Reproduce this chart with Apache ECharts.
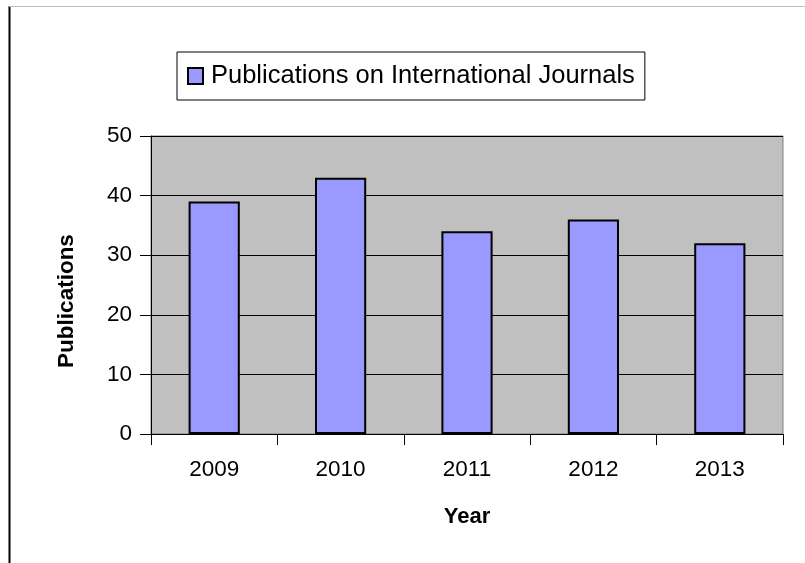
<!DOCTYPE html>
<html><head><meta charset="utf-8">
<script src="https://cdn.jsdelivr.net/npm/echarts@6/dist/echarts.min.js"></script>
<style>html,body{margin:0;padding:0;background:#fff}#c{width:805px;height:563px}</style>
</head><body><div id="c"></div>
<script>
const categories = ['2009','2010','2011','2012','2013'];
const values = [39, 43, 34, 36, 32];
const seriesName = 'Publications on International Journals';
const yTicks = {min:0, max:50, interval:10};

const chart = echarts.init(document.getElementById('c'), null, {renderer:'canvas'});
const F = 'Liberation Sans, Arial, sans-serif';
chart.setOption({
  animation:false,
  backgroundColor:'#fff',
  graphic:[
    {type:'line', shape:{x1:9.5,y1:6,x2:9.5,y2:563}, style:{stroke:'#000',lineWidth:2}},
    {type:'line', shape:{x1:9,y1:6.5,x2:805,y2:6.5}, style:{stroke:'#c0c0c0',lineWidth:1}}
  ],
  legend:{
    left:177, top:52, orient:'horizontal',
    data:[seriesName],
    icon:'rect', itemWidth:15, itemHeight:16, itemGap:4,
    itemStyle:{borderColor:'#000', borderWidth:2},
    borderColor:'#000', borderWidth:1, padding:[11,10,11,10],
    textStyle:{fontFamily:F, fontSize:25.5, color:'#000', padding:[0,0,0,3]}
  },
  grid:{left:151, right:22, top:136, bottom:129, show:true, backgroundColor:'#c0c0c0', borderColor:'#808080', borderWidth:1},
  xAxis:{
    type:'category', data:categories,
    name:'Year', nameLocation:'middle', nameGap:72,
    nameTextStyle:{fontFamily:F, fontSize:22, fontWeight:'bold', color:'#000'},
    axisLine:{lineStyle:{color:'#000',width:1}},
    axisTick:{show:true, length:11, lineStyle:{color:'#000'}},
    axisLabel:{fontFamily:F, fontSize:22.5, color:'#000', margin:24}
  },
  yAxis:{
    type:'value', min:yTicks.min, max:yTicks.max, interval:yTicks.interval,
    name:'Publications', nameLocation:'middle', nameGap:73, nameRotate:90,
    nameTextStyle:{fontFamily:F, fontSize:22.5, fontWeight:'bold', color:'#000', padding:[0,32,0,0]},
    axisLine:{show:true, lineStyle:{color:'#000',width:1}},
    axisTick:{show:true, length:11, lineStyle:{color:'#000'}},
    axisLabel:{fontFamily:F, fontSize:22.5, color:'#000', margin:19},
    splitLine:{show:true, lineStyle:{color:'#000',width:1}}
  },
  series:[{
    type:'bar', name:seriesName, data:values, barWidth:'40.5%',
    itemStyle:{color:'#9999ff', borderColor:'#000', borderWidth:2}
  }]
});
</script></body></html>
